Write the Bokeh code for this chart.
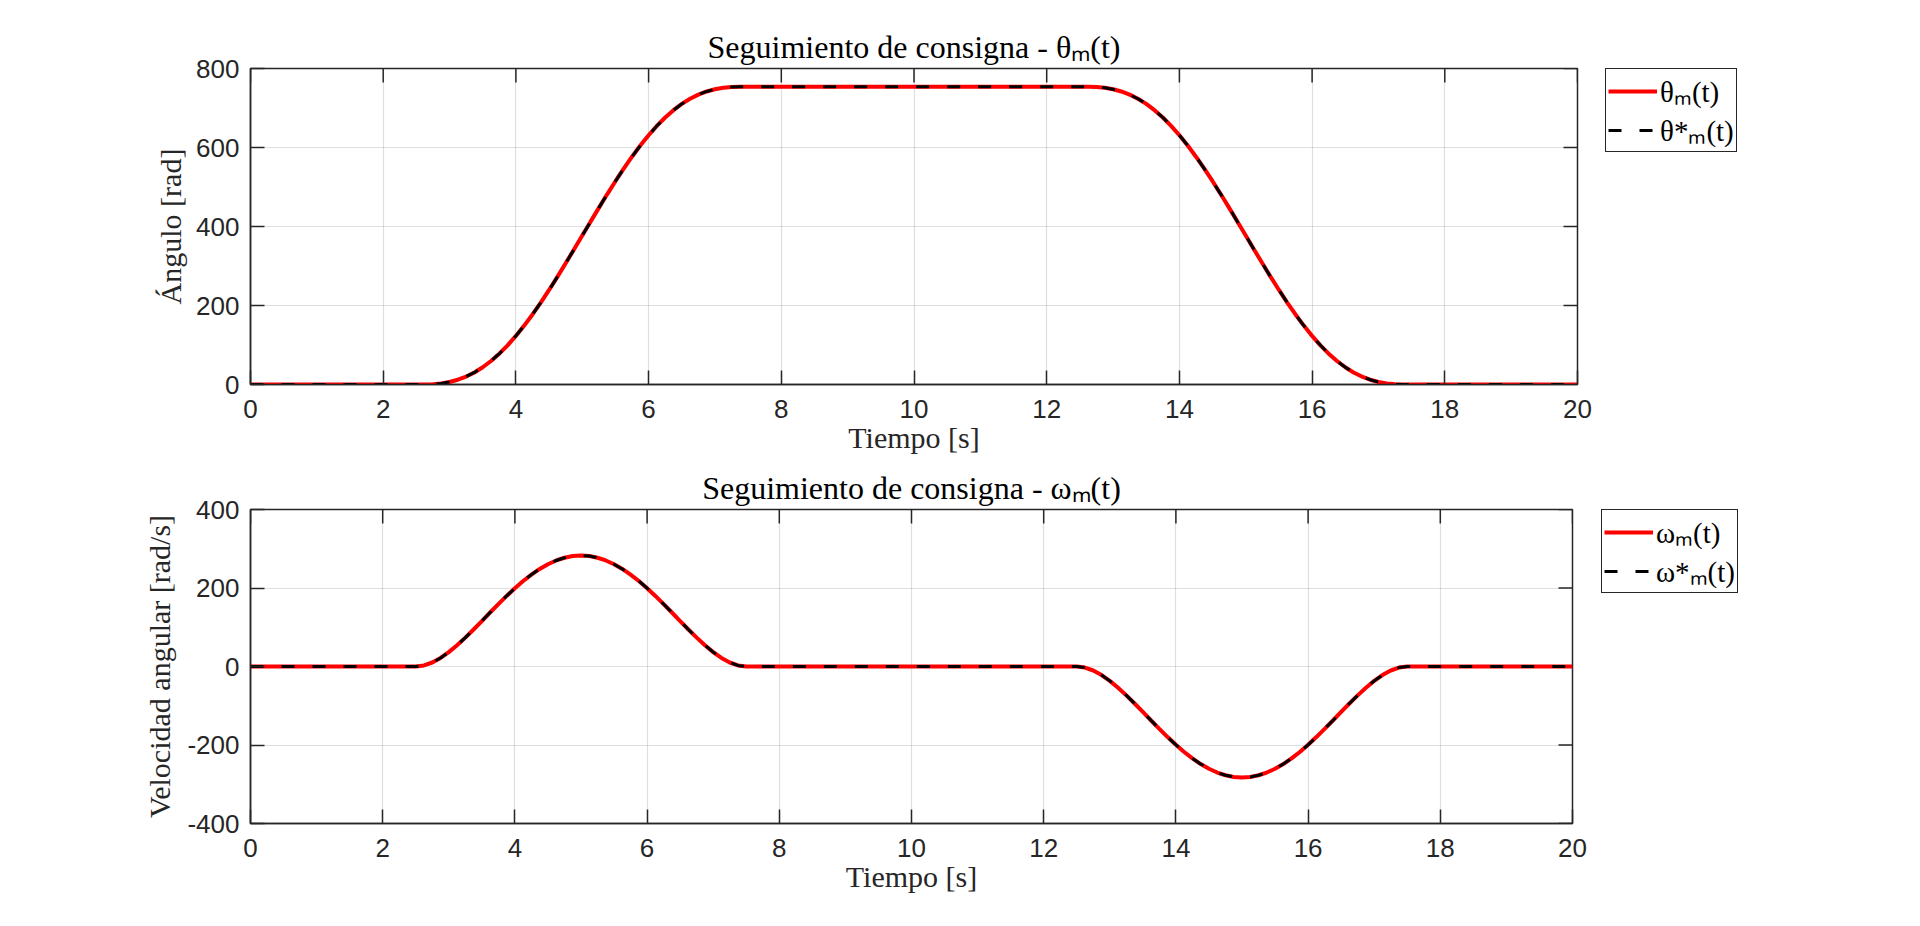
import math

from bokeh.plotting import figure
from bokeh.models import Range1d, FixedTicker, Legend, LegendItem, ColumnDataSource
from bokeh.layouts import column, row
from bokeh.embed import file_html
from bokeh.resources import INLINE

# Sample instants [s]: flat start, acceleration window 2.5-7.5 s, hold, return window 12.5-17.5 s, flat end
tiempo = [
    0.0,
    2.5, 2.625, 2.75, 2.875, 3.0, 3.125, 3.25, 3.375, 3.5, 3.625, 3.75, 3.875, 4.0, 4.125,
    4.25, 4.375, 4.5, 4.625, 4.75, 4.875, 5.0, 5.125, 5.25, 5.375, 5.5, 5.625, 5.75, 5.875,
    6.0, 6.125, 6.25, 6.375, 6.5, 6.625, 6.75, 6.875, 7.0, 7.125, 7.25, 7.375, 7.5,
    12.5, 12.625, 12.75, 12.875, 13.0, 13.125, 13.25, 13.375, 13.5, 13.625, 13.75, 13.875,
    14.0, 14.125, 14.25, 14.375, 14.5, 14.625, 14.75, 14.875, 15.0, 15.125, 15.25, 15.375,
    15.5, 15.625, 15.75, 15.875, 16.0, 16.125, 16.25, 16.375, 16.5, 16.625, 16.75, 16.875,
    17.0, 17.125, 17.25, 17.375, 17.5,
    20.0,
]

# Reference angle theta*_m(t) [rad]
theta_ref = [
    0.0,
    0.0, 0.11, 0.87, 2.83, 6.45, 12.10, 20.07, 30.54, 43.67, 59.51, 78.05, 99.24, 122.96,
    149.06, 177.32, 207.51, 239.35, 272.55, 306.78, 341.72, 377.00, 412.28, 447.22, 481.45,
    514.65, 546.49, 576.68, 604.94, 631.04, 654.76, 675.95, 694.49, 710.33, 723.46, 733.93,
    741.90, 747.55, 751.17, 753.13, 753.89, 754.00,
    754.00, 753.89, 753.13, 751.17, 747.55, 741.90, 733.93, 723.46, 710.33, 694.49, 675.95,
    654.76, 631.04, 604.94, 576.68, 546.49, 514.65, 481.45, 447.22, 412.28, 377.00, 341.72,
    306.78, 272.55, 239.35, 207.51, 177.32, 149.06, 122.96, 99.24, 78.05, 59.51, 43.67,
    30.54, 20.07, 12.10, 6.45, 2.83, 0.87, 0.11, 0.0,
    0.0,
]

# Reference angular speed omega*_m(t) [rad/s]
omega_ref = [
    0.0,
    0.0, 2.69, 10.21, 21.77, 36.64, 54.12, 73.54, 94.30, 115.81, 137.56, 159.05, 179.83,
    199.51, 217.72, 234.14, 248.51, 260.58, 270.17, 277.12, 281.34, 282.75, 281.34, 277.12,
    270.17, 260.58, 248.51, 234.14, 217.72, 199.51, 179.83, 159.05, 137.56, 115.81, 94.30,
    73.54, 54.12, 36.64, 21.77, 10.21, 2.69, 0.0,
    0.0, -2.69, -10.21, -21.77, -36.64, -54.12, -73.54, -94.30, -115.81, -137.56, -159.05,
    -179.83, -199.51, -217.72, -234.14, -248.51, -260.58, -270.17, -277.12, -281.34, -282.75,
    -281.34, -277.12, -270.17, -260.58, -248.51, -234.14, -217.72, -199.51, -179.83, -159.05,
    -137.56, -115.81, -94.30, -73.54, -54.12, -36.64, -21.77, -10.21, -2.69, 0.0,
    0.0,
]

# Measured response: the controller tracks the set-point with no visible error
theta_med = list(theta_ref)
omega_med = list(omega_ref)

x_ticks = [0, 2, 4, 6, 8, 10, 12, 14, 16, 18, 20]
theta_ticks = [0, 200, 400, 600, 800]
omega_ticks = [-400, -200, 0, 200, 400]

AX = "#262626"
SERIF = "Liberation Serif"
SANS = "Liberation Sans"
TICK_LEN = 14
RED = dict(line_color="#ff0000", line_width=4)
DASH = dict(line_color="#000000", line_width=3, line_dash="13 18")


def style_axis(ax, ticks):
    ax.ticker = FixedTicker(ticks=ticks)
    # plain hyphen for negative values
    ax.major_label_overrides = {t: str(t) for t in ticks}
    ax.minor_tick_line_color = None
    ax.major_tick_in = TICK_LEN
    ax.major_tick_out = 0
    ax.major_tick_line_color = AX
    ax.major_tick_line_width = 1.5
    ax.axis_line_color = AX
    ax.axis_line_width = 1.5
    ax.major_label_text_color = AX
    ax.major_label_text_font = SANS
    ax.major_label_text_font_size = "26px"
    ax.axis_label_text_font = SERIF
    ax.axis_label_text_font_size = "30px"
    ax.axis_label_text_font_style = "normal"
    ax.axis_label_text_color = AX


def panel(height, frame_right, top, bottom, title, ylabel, y_lo, y_hi, y_ticks, src,
          ylab_standoff):
    p = figure(width=frame_right + 20, height=height, output_backend="svg",
               toolbar_location=None,
               x_range=Range1d(0, 20), y_range=Range1d(y_lo, y_hi),
               min_border_left=250, min_border_right=20,
               min_border_top=top, min_border_bottom=bottom)
    p.title.text = title
    p.title.align = "center"
    p.title.text_font = SERIF
    p.title.text_font_size = "32px"
    p.title.text_font_style = "normal"
    p.title.text_color = "#000000"
    p.title.standoff = 8

    p.outline_line_color = AX
    p.outline_line_width = 1.5
    p.background_fill_color = "white"
    p.border_fill_color = "white"

    style_axis(p.xaxis[0], x_ticks)
    style_axis(p.yaxis[0], y_ticks)
    p.xaxis[0].axis_label = "Tiempo [s]"
    p.xaxis[0].major_label_standoff = 15
    p.xaxis[0].axis_label_standoff = 0
    p.yaxis[0].axis_label = ylabel
    p.yaxis[0].major_label_standoff = 11
    p.yaxis[0].axis_label_standoff = ylab_standoff

    # box ticks on the top and right edges of the frame
    p.ray(x=x_ticks, y=[y_hi] * len(x_ticks), length=TICK_LEN, length_units="screen",
          angle=-math.pi / 2, line_color=AX, line_width=1.5)
    p.ray(x=[20] * len(y_ticks), y=y_ticks, length=TICK_LEN, length_units="screen",
          angle=math.pi, line_color=AX, line_width=1.5)

    p.xgrid.ticker = FixedTicker(ticks=x_ticks)
    p.ygrid.ticker = FixedTicker(ticks=y_ticks)
    for g in (p.xgrid[0], p.ygrid[0]):
        g.grid_line_color = AX
        g.grid_line_alpha = 0.15
        g.grid_line_width = 1.2

    p.line("t", "med", source=src, **RED)
    p.line("t", "ref", source=src, **DASH)
    return p


def legend_box(width, height, src, lbl, lbl_ref, left, top):
    # a bare canvas next to the axes that only carries the legend; its ranges keep
    # the series themselves out of view so that only the swatches show
    q = figure(width=width, height=height, output_backend="svg", toolbar_location=None,
               x_axis_type=None, y_axis_type=None, x_range=Range1d(-200, -199),
               y_range=Range1d(0, 1), min_border_left=left, min_border_top=top,
               min_border_right=0, min_border_bottom=0)
    q.outline_line_color = None
    q.grid.visible = False
    r_med = q.line("t", "med", source=src, **RED)
    r_ref = q.line("t", "ref", source=src, **DASH)
    leg = Legend(items=[LegendItem(label=lbl, renderers=[r_med]),
                        LegendItem(label=lbl_ref, renderers=[r_ref])],
                 location="top_left")
    leg.border_line_color = AX
    leg.border_line_alpha = 1
    leg.border_line_width = 1.5
    leg.background_fill_alpha = 1
    leg.padding = 2
    leg.margin = 0
    leg.spacing = 0
    leg.glyph_width = 49
    leg.glyph_height = 30
    leg.label_height = 30
    leg.label_standoff = 3
    leg.label_text_font = SERIF
    leg.label_text_font_size = "29px"
    leg.label_text_color = "#000000"
    q.add_layout(leg)
    return q


src_theta = ColumnDataSource(dict(t=tiempo, med=theta_med, ref=theta_ref))
src_omega = ColumnDataSource(dict(t=tiempo, med=omega_med, ref=omega_ref))

p1 = panel(463, 1577, 68, 79, "Seguimiento de consigna - θₘ(t)", "Ángulo [rad]",
           0, 800, theta_ticks, src_theta, 6)
l1 = legend_box(1920 - 1597, 463, src_theta, "θₘ(t)", "θ*ₘ(t)", 8, 68)
p2 = panel(463, 1572, 45, 103, "Seguimiento de consigna - ωₘ(t)",
           "Velocidad angular [rad/s]", -400, 400, omega_ticks, src_omega, 8)
l2 = legend_box(1920 - 1592, 463, src_omega, "ωₘ(t)", "ω*ₘ(t)", 9, 45)

layout = column(row(p1, l1, spacing=0), row(p2, l2, spacing=0), spacing=0)
open("out.html", "w").write(file_html(layout, INLINE))
